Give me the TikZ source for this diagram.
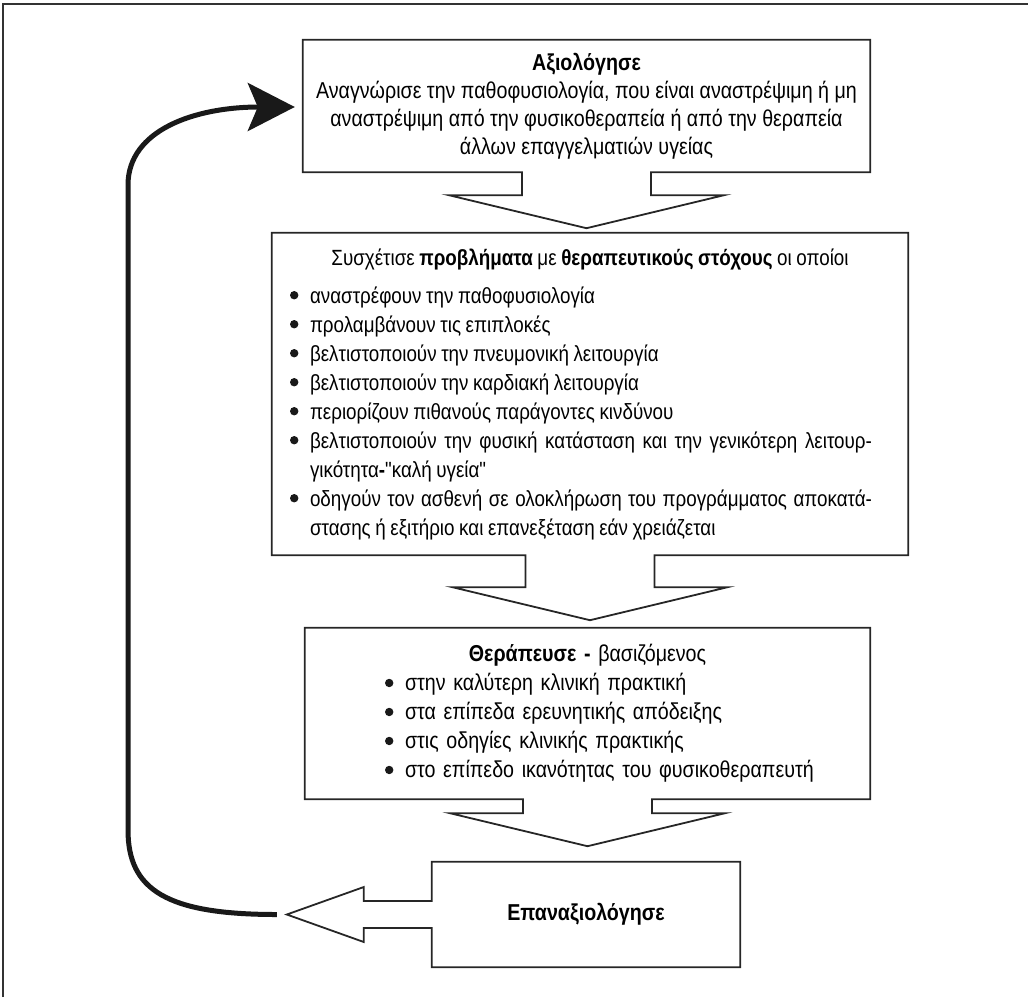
\documentclass[tikz,border=0pt]{standalone}
\usepackage{fontspec}
\setmainfont{Liberation Sans}[FakeStretch=0.855, Ligatures=TeXOff]
\usetikzlibrary{arrows.meta,calc,positioning}

\tikzset{
  stage/.style={inner sep=0pt, font=\fontsize{23}{29}\selectfont},
  outline/.style={line width=1.8pt, draw=black!85, line join=miter},
  loop/.style={line width=5pt, draw=black!90, line cap=butt,
    -{Stealth[length=47pt,width=48pt,inset=10pt]}},
  frame/.style={line width=1.6pt, draw=black!80},
}

% one bullet line, wrapped lines hang under the text
\newcommand{\bitem}{\par\hangindent=20pt\hangafter=1\noindent
  \makebox[20pt][l]{\raisebox{3.6pt}{\tikz\fill[black!90] (0pt,0pt) circle (4.2pt);}}}

% box outline opening into a block arrow that points down
% #1 = box, #2 = stem length
\newcommand{\outlinedown}[2]{%
  \draw[outline] ($(#1.south)+(-64.5,0)$) -- (#1.south west) -- (#1.north west)
    -- (#1.north east) -- (#1.south east) -- ($(#1.south)+(64.5,0)$)
    -- ++(0,#2) -- ++(73,0) -- ($(#1.south)+(0,#2+33)$)
    -- ($(#1.south)+(-137.5,#2)$) -- ++(73,0) -- cycle;}

\begin{document}
\begin{tikzpicture}[x=1pt, y=-1pt]
  \useasboundingbox (0,0) rectangle (1028,997);
  \draw[frame] (3,997) -- (3,4) -- (1028,4);

  % stages
  \node[stage, minimum width=567pt, minimum height=132pt, align=center,
        font=\fontsize{23}{28}\selectfont] (b1) at (586.5,106)
    {\textbf{Αξιολόγησε}\\
     Αναγνώρισε την παθοφυσιολογία, που είναι αναστρέψιμη ή μη\\
     αναστρέψιμη από την φυσικοθεραπεία ή από την θεραπεία\\
     άλλων επαγγελματιών υγείας};

  \node[stage, minimum width=636pt, minimum height=322pt, text width=600pt,
        align=justify, font=\fontsize{22}{29}\selectfont] (b2) at (590,394)
    {\rightskip=18pt \spaceskip=4.6pt plus 6pt minus 1.4pt
     {\centering Συσχέτισε \textbf{προβλήματα} με \textbf{θεραπευτικούς στόχους} οι οποίοι\par}
     \vspace{9pt}
     \bitem αναστρέφουν την παθοφυσιολογία
     \bitem προλαμβάνουν τις επιπλοκές
     \bitem βελτιστοποιούν την πνευμονική λειτουργία
     \bitem βελτιστοποιούν την καρδιακή λειτουργία
     \bitem περιορίζουν πιθανούς παράγοντες κινδύνου
     \bitem βελτιστοποιούν την φυσική κατάσταση και την γενικότερη λειτουρ-\linebreak
       γικότητα\textbf{-}"καλή υγεία"
     \bitem οδηγούν τον ασθενή σε ολοκλήρωση του προγράμματος αποκατά-\linebreak
       στασης ή εξιτήριο και επανεξέταση εάν χρειάζεται\par};

  \node[stage, minimum width=565pt, minimum height=171pt, text width=500pt,
        align=left] (b3) at (587.5,713.5)
    {{\centering\textbf{Θεράπευσε -} βασιζόμενος\par}
     \leftskip=47.5pt
     \bitem στην καλύτερη κλινική πρακτική
     \bitem στα επίπεδα ερευνητικής απόδειξης
     \bitem στις οδηγίες κλινικής πρακτικής
     \bitem στο επίπεδο ικανότητας του φυσικοθεραπευτή\par};

  \node[stage, minimum width=308pt, minimum height=105pt] (b4) at (586,914.5)
    {\textbf{Επαναξιολόγησε}};

  % outlines with the block arrows
  \outlinedown{b1}{23}
  \outlinedown{b2}{32}
  \outlinedown{b3}{14}
  \draw[outline] (b4.west) ++(0,-13.5) -- (b4.north west) -- (b4.north east)
    -- (b4.south east) -- (b4.south west) -- ($(b4.west)+(0,13.5)$)
    -- ++(-68,0) -- ++(0,14) -- ($(b4.west)+(-145,0)$) -- ++(77,-27.5)
    -- ++(0,14) -- cycle;

  % loop back to the start
  \coordinate (ls) at ($(b4.west)+(-155,0)$);
  \coordinate (le) at ($(b1.west)+(-8,1)$);
  \coordinate (lb) at (128,830);
  \coordinate (lt) at (128,185);
  \draw[loop] (ls) .. controls +(-110,0) and +(0,60) .. (lb) -- (lt)
    .. controls +(0,-55) and +(-100,0) .. (le);
\end{tikzpicture}
\end{document}
